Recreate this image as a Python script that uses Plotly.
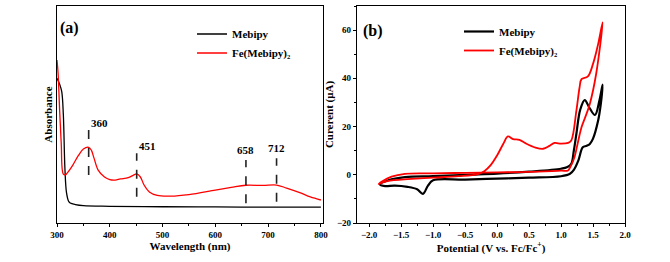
import plotly.graph_objects as go

# ---------------- data: panel (a) UV-vis ----------------
wl_mebipy = [300, 305, 309, 312, 315, 318, 322, 325, 335, 350, 400, 500, 600, 700, 800]
abs_mebipy = [0.667, 0.64, 0.605, 0.50, 0.25, 0.14, 0.10, 0.092, 0.085, 0.080, 0.077, 0.075, 0.074, 0.073, 0.073]

wl_fe = [300, 302, 305, 308, 312, 316, 320, 330, 340, 350, 360, 365, 370, 378, 390, 400, 410, 420,
         435, 445, 451, 458, 465, 475, 490, 515, 550, 600, 630, 658, 690, 716, 735, 760, 780, 800]
abs_fe = [0.751, 0.691, 0.52, 0.369, 0.225, 0.222, 0.232, 0.267, 0.309, 0.341, 0.349, 0.336, 0.30, 0.244,
          0.212, 0.20, 0.198, 0.203, 0.209, 0.221, 0.226, 0.212, 0.175, 0.143, 0.127, 0.124, 0.131,
          0.152, 0.164, 0.174, 0.173, 0.175, 0.161, 0.140, 0.120, 0.106]

peak_labels = ["360", "451", "658", "712"]
peak_pos = [360, 451, 658, 716]
peak_low = [0.221, 0.121, 0.091, 0.098]
peak_high = [0.429, 0.321, 0.29, 0.298]
peak_text_y = [0.46, 0.356, 0.336, 0.345]

# ---------------- data: panel (b) CV ----------------
v_mebipy = [-1.83, -1.7, -1.44, -1.0, -0.5, 0.0, 0.5, 1.0, 1.1, 1.16, 1.2, 1.24, 1.3, 1.37, 1.45,
            1.53, 1.6, 1.65,
            1.62, 1.58, 1.5, 1.45, 1.4, 1.34, 1.27, 1.2, 1.14, 1.0, 0.5, 0.0, -0.5, -1.0, -1.08,
            -1.16, -1.25, -1.4, -1.6, -1.75, -1.83]
i_mebipy = [-4.1, -2.3, -1.0, -0.6, 0.0, 0.5, 1.3, 2.5, 3.2, 4.5, 10, 17, 27, 31, 27.5,
            24.8, 30.8, 37.4,
            29, 22.5, 15, 12.8, 12, 11.4, 5.9, 2.0, 0.4, -0.6, -1.2, -1.6, -2.0, -2.3, -4.5,
            -7.9, -6.0, -5.0, -4.5, -4.7, -4.1]

v_fe = [-1.85, -1.75, -1.6, -1.4, -1.0, -0.6, -0.3, -0.2, -0.1, 0.0, 0.1, 0.17, 0.25, 0.35,
        0.45, 0.6, 0.72, 0.82, 0.9, 1.0, 1.11, 1.16, 1.24, 1.29, 1.32, 1.42, 1.5, 1.58, 1.65,
        1.55, 1.45, 1.38, 1.32, 1.26, 1.21, 1.15, 1.11, 1.0, 0.5, 0.0, -0.5, -1.0, -1.44,
        -1.65, -1.8, -1.85]
i_fe = [-3.8, -2.8, -2.2, -1.8, -1.2, -0.6, 0.3, 1.5, 4.0, 8.0, 13.0, 15.9, 14.8, 14.5,
        13.0, 11.3, 10.8, 12.0, 13.2, 12.9, 13.2, 14.2, 26.6, 36.3, 39.7, 40.8, 46.0, 54.2, 63.2,
        42.0, 29.4, 24.0, 19.7, 13.0, 7.3, 3.5, 1.8, 1.7, 1.2, 1.0, 0.8, 0.6, 0.4,
        -0.8, -2.8, -3.8]

series_names = ["Mebipy", "Fe(Mebipy)₂"]
colors = ["#000000", "#ff0000"]

FONT = "Liberation Serif, Times New Roman, serif"

fig = go.Figure()

# panel (a)
fig.add_trace(go.Scatter(x=wl_mebipy, y=abs_mebipy, mode="lines", name=series_names[0],
                         line=dict(color=colors[0], width=1.3), xaxis="x", yaxis="y",
                         legend="legend", line_shape="spline"))
fig.add_trace(go.Scatter(x=wl_fe, y=abs_fe, mode="lines", name=series_names[1],
                         line=dict(color=colors[1], width=1.3), xaxis="x", yaxis="y",
                         legend="legend", line_shape="spline"))
for p, lo, hi in zip(peak_pos, peak_low, peak_high):
    fig.add_trace(go.Scatter(x=[p, p], y=[lo, hi], mode="lines", showlegend=False,
                             line=dict(color="#222222", width=1.6, dash="dash"),
                             xaxis="x", yaxis="y"))

# panel (b)
fig.add_trace(go.Scatter(x=v_mebipy, y=i_mebipy, mode="lines", name=series_names[0],
                         line=dict(color=colors[0], width=2.2), xaxis="x2", yaxis="y2",
                         legend="legend2", line_shape="spline"))
fig.add_trace(go.Scatter(x=v_fe, y=i_fe, mode="lines", name=series_names[1],
                         line=dict(color=colors[1], width=1.8), xaxis="x2", yaxis="y2",
                         legend="legend2", line_shape="spline"))

W, H = 670, 262
def fx(px):
    return px / W
def fy(py):
    return (H - py) / H

tickfont = dict(family=FONT, size=9, color="#000", weight="bold")
titlefont = dict(family=FONT, size=11, color="#000", weight="bold")

axis_common = dict(showline=True, linecolor="#000", linewidth=1.2, mirror=True,
                   showgrid=False, zeroline=False, tickfont=tickfont, ticklen=3,
                   tickcolor="#000", tickwidth=1, automargin=False)

fig.update_layout(
    width=W, height=H, margin=dict(l=0, r=0, t=0, b=0, autoexpand=False),
    paper_bgcolor="white", plot_bgcolor="white",
    xaxis=dict(domain=[fx(57), fx(323)], range=[300, 804], anchor="y", ticks="outside",
               dtick=100, tick0=300, minor=dict(dtick=50, ticks="outside", ticklen=2, tickcolor="#000"),
               title=dict(text="Wavelength (nm)", font=titlefont, standoff=2), **axis_common),
    yaxis=dict(domain=[fy(223), fy(6)], range=[0, 1], anchor="x", ticks="",
               showticklabels=False,
               title=dict(text="Absorbance", font=titlefont, standoff=1), **axis_common),
    yaxis3=dict(overlaying="y", side="right", anchor="x", range=[0, 1], ticks="inside",
                tickvals=[i * 0.0705 for i in range(1, 15)], showticklabels=False,
                ticklen=3, tickcolor="#000", showgrid=False, zeroline=False, showline=False,
                automargin=False),
    xaxis2=dict(domain=[fx(357), fx(625)], range=[-2.19, 2.0], anchor="y2", ticks="outside",
                dtick=0.5, tick0=0, tickformat=".1f",
                minor=dict(dtick=0.25, ticks="outside", ticklen=2, tickcolor="#000"),
                title=dict(text="Potential (V vs. Fc/Fc<sup>+</sup>)", font=titlefont, standoff=2),
                **axis_common),
    yaxis2=dict(domain=[fy(223), fy(6)], range=[-20, 70], anchor="x2", ticks="outside",
                dtick=20, tick0=0, minor=dict(dtick=10, ticks="outside", ticklen=2, tickcolor="#000"),
                title=dict(text="Curerent (μA)", font=titlefont, standoff=1), **axis_common),
    yaxis4=dict(overlaying="y2", side="right", anchor="x2", range=[-20, 70], ticks="inside",
                dtick=10, tick0=0, showticklabels=False, ticklen=3, tickcolor="#000",
                showgrid=False, zeroline=False, showline=False, automargin=False),
    legend=dict(x=fx(192), y=fy(19.5), xanchor="left", yanchor="top", bgcolor="rgba(0,0,0,0)",
                font=dict(family=FONT, size=11, color="#000", weight="bold"),
                tracegroupgap=0, itemwidth=30),
    legend2=dict(x=fx(459), y=fy(17), xanchor="left", yanchor="top", bgcolor="rgba(0,0,0,0)",
                 font=dict(family=FONT, size=11, color="#000", weight="bold"),
                 tracegroupgap=0, itemwidth=30),
    showlegend=True,
    hovermode=False,
)

annotations = [
    dict(text="(a)", x=fx(58), y=fy(28), xref="paper", yref="paper", xanchor="left",
         yanchor="middle", showarrow=False, font=dict(family=FONT, size=16, color="#000", weight="bold")),
    dict(text="(b)", x=fx(361), y=fy(31), xref="paper", yref="paper", xanchor="left",
         yanchor="middle", showarrow=False, font=dict(family=FONT, size=16, color="#000", weight="bold")),
]
anchors = ["left", "left", "center", "center"]
for lab, p, ty, an in zip(peak_labels, peak_pos, peak_text_y, anchors):
    annotations.append(dict(text=lab, x=p, y=ty, xref="x", yref="y", xanchor=an, yanchor="middle",
                            showarrow=False, font=dict(family=FONT, size=11, color="#000", weight="bold")))
fig.update_layout(annotations=annotations)

fig.write_html("out.html", config={"displayModeBar": False},
               post_script="document.body.style.margin='0';document.body.style.overflow='hidden';")
